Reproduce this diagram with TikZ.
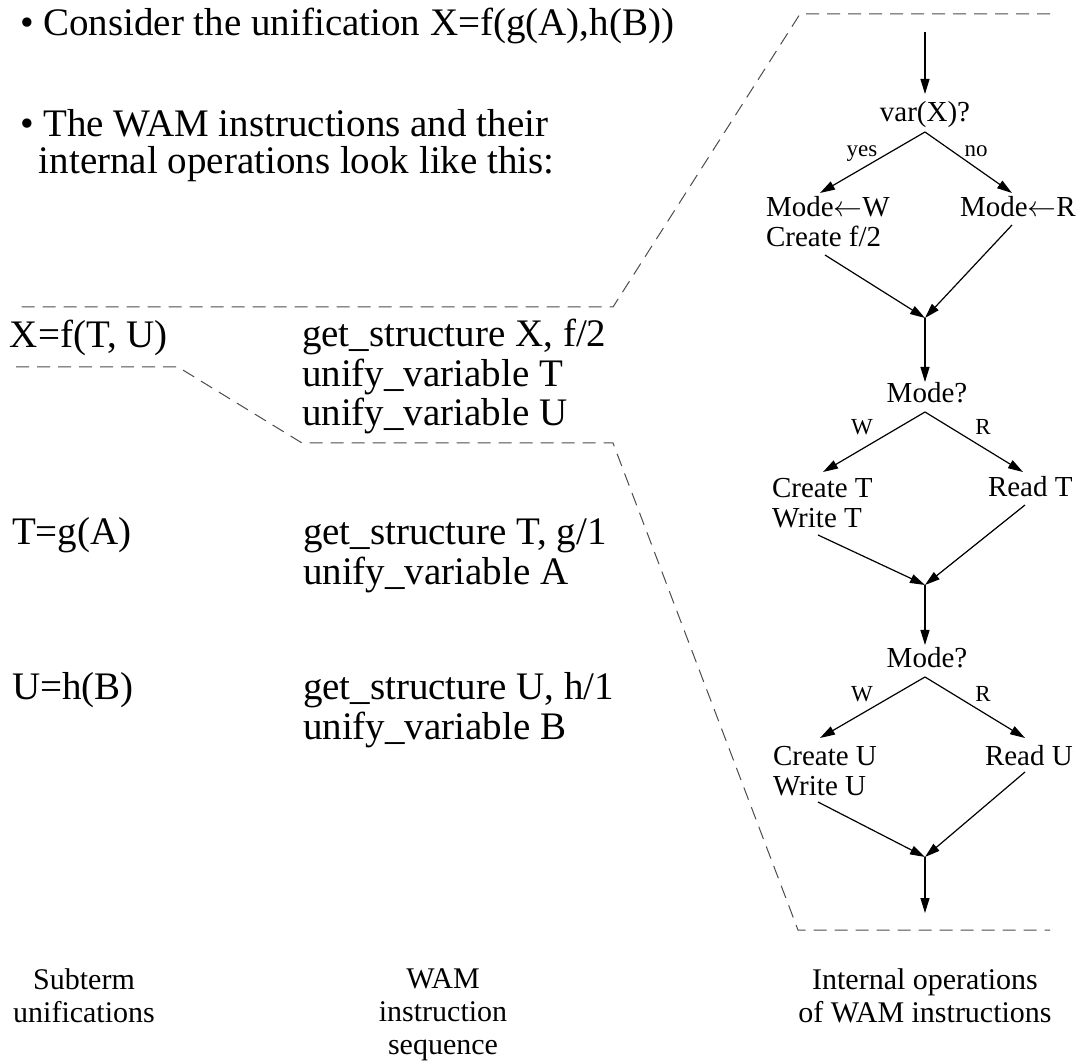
\documentclass[tikz,border=0pt]{standalone}
\usepackage{fontspec}
\setmainfont{Liberation Serif}
\usetikzlibrary{arrows.meta}

% several lines stacked, baseline on the first line
\newcommand\linestack[2]{\begin{tabular}[t]{@{}#1@{}}#2\end{tabular}}

\begin{document}
\begin{tikzpicture}[x=0.5pt,y=-0.5pt,
  every node/.style={inner sep=0pt,outer sep=0pt},
  big/.style={font=\fontsize{19.5}{19.5}\selectfont,anchor=base west},
  flow/.style={font=\fontsize{14.5}{15}\selectfont},
  lbl/.style={font=\fontsize{11.5}{12}\selectfont,anchor=base},
  caption/.style={font=\fontsize{15}{16.5}\selectfont,anchor=base},
  arr/.style={-{Triangle[length=7.5pt,width=4.5pt]},line width=0.6pt},
  cut/.style={dash pattern=on 6.5pt off 4pt,line width=0.5pt,draw=black!70}]
\useasboundingbox (0,0) rectangle (1089,1064);

% --- introduction ---
\node[big] (intro1) at (20,36) {• Consider the unification X=f(g(A),h(B))};
\node[big] (intro2) at (20,137) {• The WAM instructions and their};
\node[big] (intro3) at (39,174) {internal operations look like this:};

% --- subterm unifications and instruction sequences ---
\node[big] (suX) at (10,348) {X=f(T, U)};
\node[big] (inX) at (302,347) {\linestack{l}{get\_structure X, f/2\\unify\_variable T\\unify\_variable U}};
\node[big] (suT) at (12,545) {T=g(A)};
\node[big] (inT) at (303,545) {\linestack{l}{get\_structure T, g/1\\unify\_variable A}};
\node[big] (suU) at (12,700) {U=h(B)};
\node[big] (inU) at (303,700) {\linestack{l}{get\_structure U, h/1\\unify\_variable B}};

% --- cut-out guides ---
\coordinate (ga) at (1050,14);
\coordinate (gb) at (800,14);
\coordinate (gc) at (613,307);
\coordinate (gd) at (16,307);
\draw[cut] (ga) -- (gb) -- (gc) -- (gd);
\coordinate (ha) at (16,367);
\coordinate (hb) at (178,367);
\coordinate (hc) at (302,443);
\coordinate (hd) at (613,443);
\coordinate (he) at (798,930);
\coordinate (hf) at (1050,930);
\draw[cut] (ha) -- (hb) -- (hc) -- (hd) -- (he) -- (hf);

% --- get_structure X, f/2 ---
\coordinate (s0) at (925,32);
\coordinate (q1in) at (925,94);
\node[flow,anchor=base] (q1) at (925,122) {var(X)?};
\coordinate (q1a) at (925,132);
\coordinate (w1) at (820,193);
\coordinate (r1) at (1012,193);
\node[lbl] (yes) at (862,157) {yes};
\node[lbl] (no) at (976,157) {no};
\node[flow,anchor=base west] (mw) at (766,217) {\linestack{l}{Mode$\leftarrow$W\\Create f/2}};
\node[flow,anchor=base west] (mr) at (960,217) {Mode$\leftarrow$R};
\coordinate (w1o) at (825,255);
\coordinate (r1o) at (1012,225);
\coordinate (j1) at (925,318);
\draw[arr] (s0) -- (q1in);
\draw[arr] (q1a) -- (w1);
\draw[arr] (q1a) -- (r1);
\draw[arr] (w1o) -- (j1);
\draw[arr] (r1o) -- (j1);

% --- unify_variable T ---
\coordinate (q2in) at (925,382);
\node[flow,anchor=base] (q2) at (927,403) {Mode?};
\coordinate (q2a) at (925,412);
\coordinate (w2) at (823,472);
\coordinate (r2) at (1023,472);
\node[lbl] (w2l) at (862,435) {W};
\node[lbl] (r2l) at (983,435) {R};
\node[flow,anchor=base west] (ct) at (772,498) {\linestack{l}{Create T\\Write T}};
\node[flow,anchor=base west] (rt) at (988,497) {Read T};
\coordinate (w2o) at (818,535);
\coordinate (r2o) at (1025,505);
\coordinate (j2) at (925,585);
\draw[arr] (j1) -- (q2in);
\draw[arr] (q2a) -- (w2);
\draw[arr] (q2a) -- (r2);
\draw[arr] (w2o) -- (j2);
\draw[arr] (r2o) -- (j2);

% --- unify_variable U ---
\coordinate (q3in) at (925,645);
\node[flow,anchor=base] (q3) at (927,668) {Mode?};
\coordinate (q3a) at (925,677);
\coordinate (w3) at (820,738);
\coordinate (r3) at (1025,738);
\node[lbl] (w3l) at (862,702) {W};
\node[lbl] (r3l) at (983,702) {R};
\node[flow,anchor=base west] (cu) at (773,766) {\linestack{l}{Create U\\Write U}};
\node[flow,anchor=base west] (ru) at (985,766) {Read U};
\coordinate (w3o) at (818,802);
\coordinate (r3o) at (1025,772);
\coordinate (j3) at (925,857);
\coordinate (s1) at (925,913);
\draw[arr] (j2) -- (q3in);
\draw[arr] (q3a) -- (w3);
\draw[arr] (q3a) -- (r3);
\draw[arr] (w3o) -- (j3);
\draw[arr] (r3o) -- (j3);
\draw[arr] (j3) -- (s1);

% --- column captions ---
\node[caption] (c1) at (84,989) {\linestack{c}{Subterm\\unifications}};
\node[caption] (c2) at (443,988) {\linestack{c}{WAM\\instruction\\sequence}};
\node[caption] (c3) at (925,989) {\linestack{c}{Internal operations\\of WAM instructions}};
\end{tikzpicture}
\end{document}
